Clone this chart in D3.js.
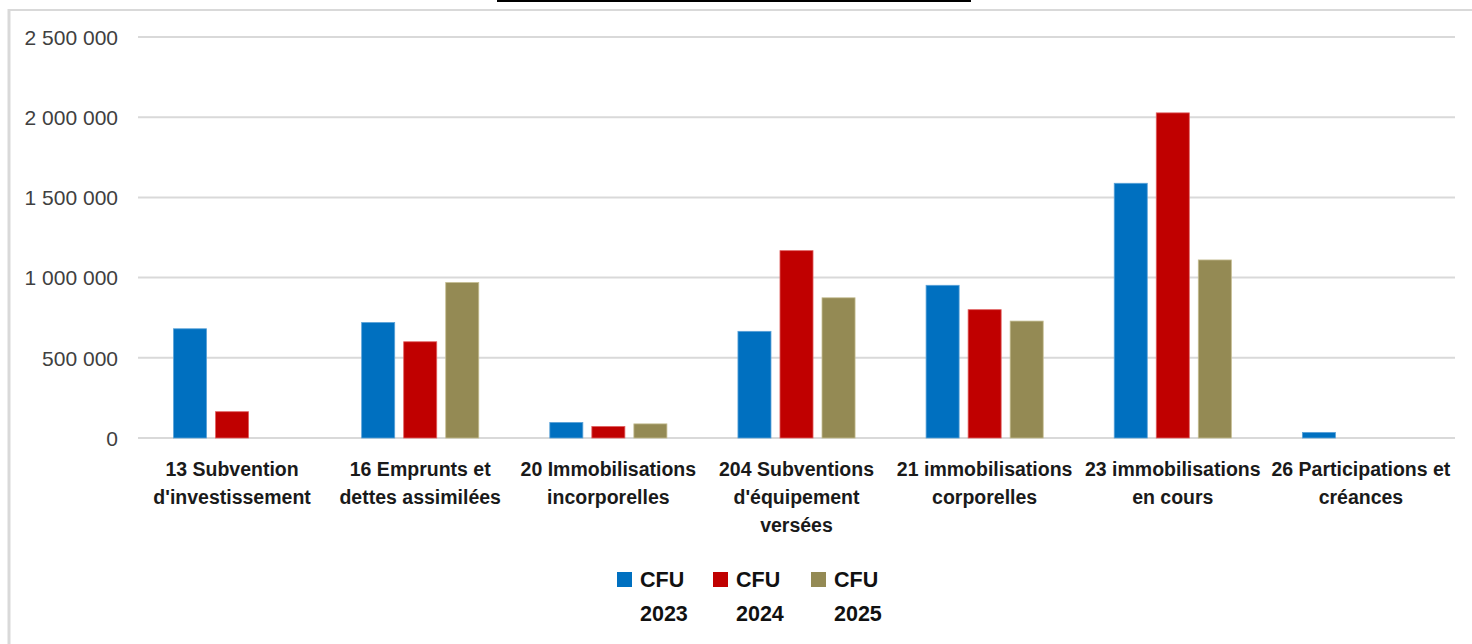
<!doctype html>
<html>
<head>
    <meta charset="utf-8">
    <style>
        body { margin: 0; background: #fff; }
        svg { display: block; font-family: "Liberation Sans", Arial, sans-serif; }
        .grid line { stroke: #d9d9d9; stroke-width: 2px; }
        .axis-y text { font-size: 21px; fill: #404040; }
        .axis-x text { font-size: 19.5px; font-weight: bold; fill: #1a1a1a; }
        .legend text { font-size: 21.5px; font-weight: bold; fill: #111; }
    </style>
    <script src="https://d3js.org/d3.v7.min.js"></script>
</head>
<body>
    <svg width="1472" height="644"></svg>
    <script>

        // categories, one entry per line of the wrapped label
        var categories = [
            ["13 Subvention", "d'investissement"],
            ["16 Emprunts et", "dettes assimilées"],
            ["20 Immobilisations", "incorporelles"],
            ["204 Subventions", "d'équipement", "versées"],
            ["21 immobilisations", "corporelles"],
            ["23 immobilisations", "en cours"],
            ["26 Participations et", "créances"]
        ];
        var seriesNames = ["CFU 2023", "CFU 2024", "CFU 2025"];
        var cfu2023 = [681000, 720000, 97000, 665000, 952000, 1588000, 35000];
        var cfu2024 = [164000, 600000, 72000, 1168000, 800000, 2027000, 0];
        var cfu2025 = [0, 969000, 88000, 874000, 729000, 1110000, 0];
        var yTicks = [0, 500000, 1000000, 1500000, 2000000, 2500000];

        var colors = ["#0070c0", "#c00000", "#948a54"];
        var strokes = ["#5aa2d8", "#e06060", "#c4bc90"];
        var values = [cfu2023, cfu2024, cfu2025];

        var svg = d3.select("svg");

        // frame of the chart area (left and top edges only are visible)
        svg.append("line").attr("x1", 9).attr("x2", 9).attr("y1", 9).attr("y2", 644)
           .attr("stroke", "#d9d9d9").attr("stroke-width", 3);
        svg.append("line").attr("x1", 9).attr("x2", 1472).attr("y1", 10).attr("y2", 10)
           .attr("stroke", "#d9d9d9").attr("stroke-width", 2);
        // underline of the (cropped) title
        svg.append("line").attr("x1", 497).attr("x2", 971).attr("y1", 1).attr("y2", 1)
           .attr("stroke", "#000").attr("stroke-width", 2);

        var plotLeft = 138, plotRight = 1455, plotTop = 37, plotBottom = 438;

        var x0 = d3.scaleBand()
            .domain(d3.range(categories.length))
            .range([plotLeft, plotRight]);

        var x1 = d3.scaleBand()
            .domain(seriesNames)
            .range([0, x0.bandwidth()])
            .paddingInner(0.214)
            .paddingOuter(0.845);

        var y = d3.scaleLinear().domain([0, 2500000]).range([plotBottom, plotTop]);

        var fmt = function(d) { return d3.format(",")(d).replace(/,/g, " "); };

        // gridlines
        svg.append("g")
           .attr("class", "grid")
           .selectAll("line")
           .data(yTicks)
           .enter().append("line")
           .attr("x1", plotLeft).attr("x2", plotRight)
           .attr("y1", function(d) { return y(d); })
           .attr("y2", function(d) { return y(d); });

        // y axis labels
        var yAxis = svg.append("g")
           .attr("class", "axis-y")
           .attr("transform", "translate(" + (plotLeft - 20) + ",0)")
           .call(d3.axisLeft(y).tickValues(yTicks).tickFormat(fmt).tickSize(0).tickPadding(0));
        yAxis.select(".domain").remove();
        yAxis.selectAll("text").attr("dy", "0.35em");
        yAxis.attr("font-size", null).attr("font-family", null);

        // bars
        var groups = svg.append("g")
           .selectAll("g")
           .data(categories)
           .enter().append("g")
           .attr("transform", function(d, i) { return "translate(" + x0(i) + ",0)"; });

        groups.selectAll("rect")
           .data(function(d, i) {
               return values.map(function(v, s) { return { s: s, name: seriesNames[s], value: v[i] }; })
                            .filter(function(e) { return e.value > 0; });
           })
           .enter().append("rect")
           .attr("x", function(d) { return x1(d.name); })
           .attr("y", function(d) { return y(d.value); })
           .attr("width", x1.bandwidth())
           .attr("height", function(d) { return y(0) - y(d.value); })
           .attr("fill", function(d) { return colors[d.s]; })
           .attr("stroke", function(d) { return strokes[d.s]; })
           .attr("stroke-width", 0.8);

        // x axis category labels
        var xl = svg.append("g").attr("class", "axis-x");
        categories.forEach(function(lines, i) {
            var t = xl.append("text")
                .attr("text-anchor", "middle")
                .attr("x", x0(i) + x0.bandwidth() / 2)
                .attr("y", 476);
            lines.forEach(function(l, k) {
                t.append("tspan")
                 .attr("x", x0(i) + x0.bandwidth() / 2)
                 .attr("dy", k === 0 ? 0 : 28)
                 .text(l);
            });
        });

        // legend
        var legend = svg.append("g").attr("class", "legend");
        var legendX = [617, 713, 811];
        seriesNames.forEach(function(name, s) {
            var g = legend.append("g").attr("transform", "translate(" + legendX[s] + ",572)");
            g.append("rect").attr("width", 15).attr("height", 15).attr("fill", colors[s]);
            var parts = name.split(" ");
            var t = g.append("text").attr("x", 23).attr("y", 14.5);
            t.append("tspan").attr("x", 23).text(parts[0]);
            t.append("tspan").attr("x", 23).attr("dy", 34).text(parts[1]);
        });

    </script>
</body>
</html>
